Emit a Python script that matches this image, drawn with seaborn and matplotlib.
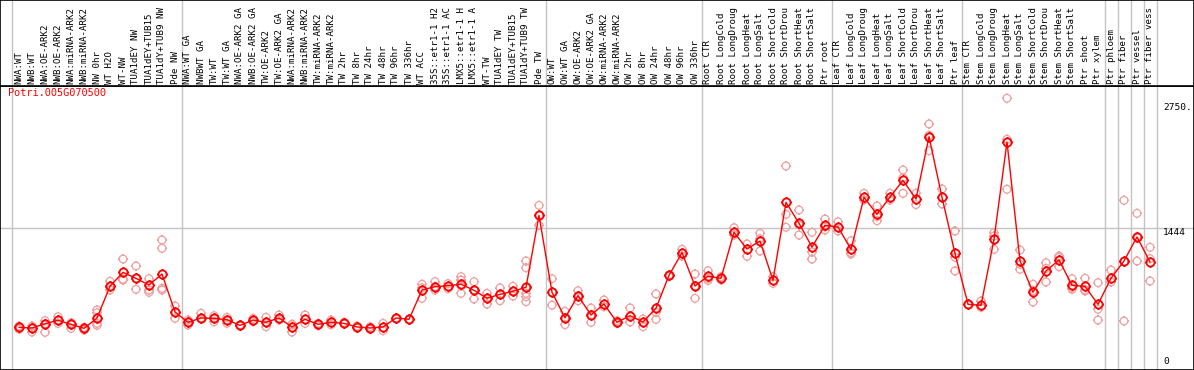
import numpy as np
import pandas as pd
import matplotlib
matplotlib.use("Agg")
import matplotlib.pyplot as plt
from matplotlib.path import Path
import seaborn as sns

# sample names (top header, rotated)
samples = [
    "NWA:WT", "NWB:WT", "NWA:OE-ARK2", "NWB:OE-ARK2", "NWA:miRNA-ARK2", "NWB:miRNA-ARK2",
    "NW 0hr", "WT H2O", "WT-NW", "TUA1dEY NW", "TUA1dEY+TUB15", "TUA1dY+TUB9 NW", "Pde NW",
    "NWA:WT GA", "NWBWT GA", "TW:WT", "TW:WT GA", "NWA:OE-ARK2 GA", "NWB:OE-ARK2 GA",
    "TW:OE-ARK2", "TW:OE-ARK2 GA", "NWA:miRNA-ARK2", "NWB:miRNA-ARK2", "TW:miRNA-ARK2",
    "TW:miRNA-ARK2", "TW 2hr", "TW 8hr", "TW 24hr", "TW 48hr", "TW 96hr", "TW 336hr",
    "WT ACC", "35S::etr1-1 H2", "35S::etr1-1 AC", "LMX5::etr1-1 H", "LMX5::etr1-1 A",
    "WT-TW", "TUA1dEY TW", "TUA1dEY+TUB15", "TUA1dY+TUB9 TW", "Pde TW",
    "OW:WT", "OW:WT GA", "OW:OE-ARK2", "OW:OE-ARK2 GA", "OW:miRNA-ARK2", "OW:miRNA-ARK2",
    "OW 2hr", "OW 8hr", "OW 24hr", "OW 48hr", "OW 96hr", "OW 336hr",
    "Root CTR", "Root LongCold", "Root LongDroug", "Root LongHeat", "Root LongSalt",
    "Root ShortCold", "Root ShortDrou", "Root ShortHeat", "Root ShortSalt", "Ptr root",
    "Leaf CTR", "Leaf LongCold", "Leaf LongDroug", "Leaf LongHeat", "Leaf LongSalt",
    "Leaf ShortCold", "Leaf ShortDrou", "Leaf ShortHeat", "Leaf ShortSalt", "Ptr leaf",
    "Stem CTR", "Stem LongCold", "Stem LongDroug", "Stem LongHeat", "Stem LongSalt",
    "Stem ShortCold", "Stem ShortDrou", "Stem ShortHeat", "Stem ShortSalt", "Ptr shoot",
    "Ptr xylem", "Ptr phloem", "Ptr fiber", "Ptr vessel", "Ptr fiber vess",
]

# mean expression per sample (connected markers)
means = [
    372, 365, 411, 448, 404, 361, 473, 816, 967, 902, 830, 949, 538,
    426, 473, 469, 454, 393, 451, 426, 473, 376, 459, 405, 426, 415, 376, 365,
    376, 473, 459, 776, 812, 823, 838, 773, 686, 729, 762, 805, 1584,
    751, 475, 714, 505, 624, 426, 498, 430, 578, 935, 1180, 819,
    925, 902, 1400, 1220, 1306, 881, 1725, 1498, 1241, 1476,
    1458, 1216, 1779, 1595, 1782, 1963, 1761, 2435, 1779, 1171,
    621, 610, 1325, 2378, 1090, 751, 982, 1101, 827, 816, 621,
    903, 1090, 1350, 1079,
]

# individual replicates per sample (light circles)
replicates = [
    [386, 351, 372], [386, 321, 365], [444, 318, 411], [487, 415, 448], [422, 361, 404],
    [372, 343, 361], [560, 530, 415, 394], [870, 776, 812], [1111, 884, 892],
    [1036, 783, 902], [899, 751, 776], [1317, 1227, 794, 776], [603, 470],
    [451, 397, 426], [524, 462, 473], [498, 433, 469], [480, 415, 454], [400, 385],
    [469, 433], [480, 379, 426], [505, 451], [401, 321, 405], [505, 415], [415, 390],
    [451, 400], [426, 410], [385, 365], [379, 350], [415, 336], [473, 465], [459, 452],
    [838, 686, 800], [866, 776, 812], [845, 790], [920, 740, 884, 820], [866, 679, 776],
    [740, 624, 686], [798, 660, 729], [816, 710, 762], [1090, 1017, 740, 704, 650, 805],
    [1692, 1476, 1584],
    [898, 612, 751], [545, 401, 473], [768, 660, 714], [581, 426, 505], [667, 595],
    [444, 415], [581, 430], [462, 379], [733, 534, 458, 578], [935, 925], [1216, 1144],
    [949, 686, 819],
    [985, 880, 900], [920, 884], [1450, 1371, 1400], [1274, 1141], [1390, 1198, 1330],
    [920, 848], [2118, 1595, 1455], [1642, 1371, 1480], [1400, 1187, 1111], [1544, 1425, 1460],
    [1515, 1415], [1309, 1166, 1180], [1822, 1750], [1685, 1526, 1570], [1822, 1750],
    [2075, 1822, 1990], [1822, 1700], [2573, 2284, 2450], [1869, 1707], [1414, 982, 1130],
    [621, 615], [657, 588], [1396, 1216, 1360], [2851, 1866, 2407], [1209, 1000, 1054],
    [838, 646, 770], [1071, 863, 1010], [1144, 1028, 1130], [898, 783, 800], [903, 765, 780],
    [855, 567, 451],
    [992, 863], [1747, 440, 1083], [1606, 1090, 1354], [1238, 873, 1115],
]

gene_id = "Potri.005G070500"
ytick_values = [0, 1444, 2750]
ytick_labels = ["0", "1444", "2750."]
group_breaks = [-0.5, 12.5, 40.5, 52.5, 62.5, 72.5, 83.5, 84.5, 85.5, 86.5, 87.5]

pos = np.arange(len(samples))
mean_df = pd.DataFrame({"pos": pos, "value": means})
rep_df = pd.DataFrame(
    [(i, v) for i, reps in enumerate(replicates) for v in reps], columns=["pos", "value"]
)

# circle with four little ticks, like the original markers
t = 1.3
gear = Path.make_compound_path(
    Path.unit_circle(),
    Path([(0, 1), (0, t), (0, -1), (0, -t), (1, 0), (t, 0), (-1, 0), (-t, 0)],
         [Path.MOVETO, Path.LINETO] * 4),
)

sns.set_style("white")
mono = "DejaVu Sans Mono"

W, H = 1194, 370
head = 86
fig = plt.figure(figsize=(W / 100, H / 100), dpi=100)
ax = fig.add_axes([0, 0, 1, 1 - head / H])
hax = fig.add_axes([0, 1 - head / H, 1, head / H])

xlim = (-19 / 13, (W - 19) / 13)
y0_px, px_per_unit = 361.7, 0.0924
ylim = ((y0_px - H) / px_per_unit, (y0_px - head) / px_per_unit)

for a in (ax, hax):
    a.set_xlim(*xlim)
    a.set_xticks([])
    a.set_yticks([])
    a.set_facecolor("white")
    for b in group_breaks:
        a.axvline(b, color="#c4c4c4", lw=1, zorder=0)
    for s in a.spines.values():
        s.set_color("black")
        s.set_linewidth(1.2)
ax.set_ylim(*ylim)
hax.set_ylim(0, 1)

ax.axhline(1444, color="#c4c4c4", lw=1, zorder=0)

sns.scatterplot(data=rep_df, x="pos", y="value", ax=ax, marker=gear, s=52,
                facecolor="none", edgecolor="#f0a0a0", linewidth=0.9, zorder=2, legend=False)
sns.lineplot(data=mean_df, x="pos", y="value", ax=ax, sort=False, color="red", lw=1,
             marker=gear, markersize=7.6, markerfacecolor="none", markeredgecolor="red",
             markeredgewidth=1.3, zorder=3)
ax.set_xlabel("")
ax.set_ylabel("")

for v, lab in zip(ytick_values, ytick_labels):
    ax.text(88.0, v, lab, ha="left", va="top" if v == 1444 else "center",
            fontsize=6.8, family=mono, color="black")

for i, name in enumerate(samples):
    hax.text(i, 0.025, name, rotation=90, ha="center", va="bottom",
             fontsize=6.6, family=mono, color="black", clip_on=True)

fig.text(8 / W, 1 - 88 / H, gene_id, ha="left", va="top", fontsize=7.4,
         family=mono, color="red")

fig.savefig("out.png", dpi=100)
